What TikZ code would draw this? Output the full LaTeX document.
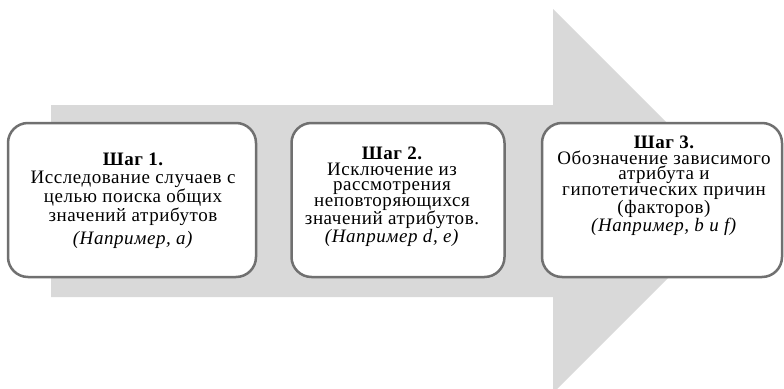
\documentclass[tikz,border=0pt]{standalone}
\usepackage{fontspec}
\setmainfont{Liberation Serif}
\newfontfamily\stepfont[LetterSpace=3]{Liberation Serif}
\definecolor{arrowgray}{RGB}{217,217,217}
\definecolor{boxline}{RGB}{112,112,112}
\begin{document}
\begin{tikzpicture}[x=1pt,y=-1pt,
  stepbox/.style={draw=boxline, line width=2.5pt, fill=white,
    rounded corners=20pt, minimum height=154pt, inner sep=0pt},
  steptext/.style={align=center, font=\stepfont\fontsize{19}{15.5}\selectfont, inner sep=0pt},
  titlefont/.style={}]
\clip (0,0) rectangle (784,388);
\fill[white] (0,0) rectangle (784,388);
\fill[arrowgray] (51,105) -- (553,105) -- (553,9) -- (745,201) -- (553,393) -- (553,297) -- (51,297) -- cycle;
\node[stepbox, minimum width=248pt] (box1) at (132,200) {};
\node[stepbox, minimum width=213pt] (box2) at (398,200) {};
\node[stepbox, minimum width=240pt] (box3) at (662,200) {};
\node[steptext] (t1) at (133,201) {{\bfseries\fontsize{19}{18}\selectfont Шаг 1.}\\[2pt]
Исследование случаев с\\[0.5pt]целью поиска общих\\[0.5pt]значений атрибутов\\[5pt]\textit{(Например, a)}};
\node[steptext] (t2) at (392,197) {{\bfseries\fontsize{19}{18}\selectfont Шаг 2.}\\
Исключение из\\рассмотрения\\неповторяющихся\\значений атрибутов.\\\textit{(Например d, e)}};
\node[steptext] (t3) at (664,186) {{\bfseries\fontsize{19}{18}\selectfont Шаг 3.}\\
Обозначение зависимого\\атрибута и\\гипотетических причин\\(факторов)\\\textit{(Например, b и f)}};
\end{tikzpicture}
\end{document}
